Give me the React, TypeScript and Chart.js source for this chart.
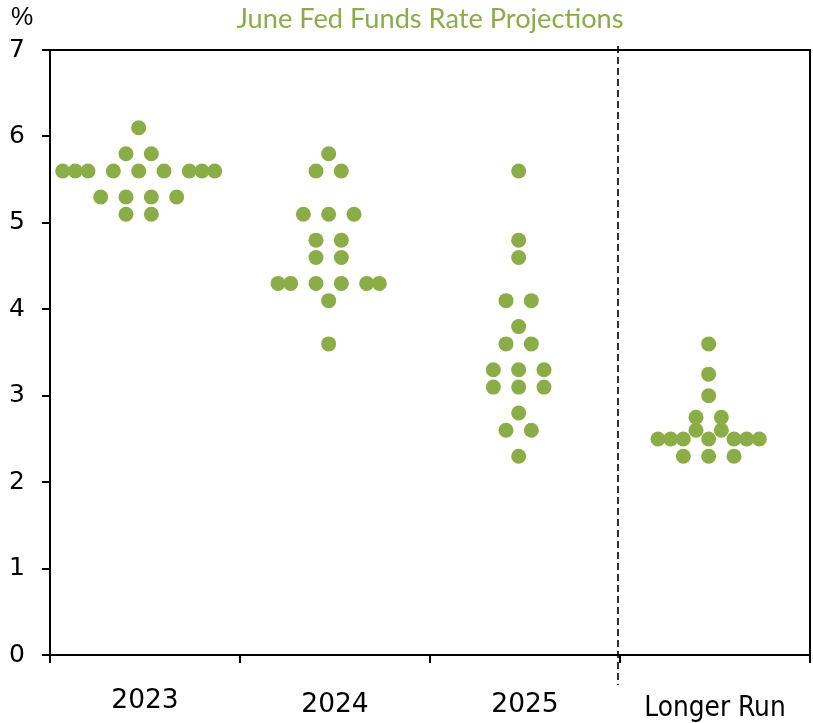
import React, { useEffect, useRef } from 'react';
import { Chart, registerables } from 'chart.js';

Chart.register(...registerables);

// ---- Data ----
const categories = ['2023', '2024', '2025', 'Longer Run'];
const yTickValues = [0, 1, 2, 3, 4, 5, 6, 7];

// Each dot: value and horizontal slot offset (from the cluster centre)
const values2023 = [6.1, 5.8, 5.8, 5.6, 5.6, 5.6, 5.6, 5.6, 5.6, 5.6, 5.6, 5.6, 5.3, 5.3, 5.3, 5.3, 5.1, 5.1];
const slots2023 = [0, -1, 1, -6, -5, -4, -2, 0, 2, 4, 5, 6, -3, -1, 1, 3, -1, 1];

const values2024 = [5.8, 5.6, 5.6, 5.1, 5.1, 5.1, 4.8, 4.8, 4.6, 4.6, 4.3, 4.3, 4.3, 4.3, 4.3, 4.3, 4.1, 3.6];
const slots2024 = [0, -1, 1, -2, 0, 2, -1, 1, -1, 1, -4, -3, -1, 1, 3, 4, 0, 0];

const values2025 = [5.6, 4.8, 4.6, 4.1, 4.1, 3.8, 3.6, 3.6, 3.3, 3.3, 3.3, 3.1, 3.1, 3.1, 2.8, 2.6, 2.6, 2.3];
const slots2025 = [0, 0, 0, -1, 1, 0, -1, 1, -2, 0, 2, -2, 0, 2, 0, -1, 1, 0];

const valuesLonger = [3.6, 3.25, 3.0, 2.75, 2.75, 2.6, 2.6, 2.5, 2.5, 2.5, 2.5, 2.5, 2.5, 2.5, 2.3, 2.3, 2.3];
const slotsLonger = [0, 0, 0, -1, 1, -1, 1, -4, -3, -2, 0, 2, 3, 4, -2, 0, 2];

const seriesValues = [values2023, values2024, values2025, valuesLonger];
const seriesSlots = [slots2023, slots2024, slots2025, slotsLonger];

const SLOTS_PER_CATEGORY = 15;
const CENTER_SLOT = 7;

const GREEN = '#8BAD47';

function buildPoints() {
  const pts: { x: number; y: number }[] = [];
  seriesValues.forEach((vals, ci) => {
    vals.forEach((v, i) => {
      pts.push({ x: ci + (CENTER_SLOT + seriesSlots[ci][i]) / SLOTS_PER_CATEGORY, y: v });
    });
  });
  return pts;
}

const framePlugin = {
  id: 'frameAndMarks',
  afterDraw(chart: any) {
    const { ctx, chartArea } = chart;
    const { left, right, top, bottom } = chartArea;
    ctx.save();
    ctx.strokeStyle = '#000';
    ctx.lineWidth = 2;
    ctx.beginPath();
    ctx.moveTo(left - 1, top);
    ctx.lineTo(right, top);
    ctx.lineTo(right, bottom);
    ctx.stroke();

    const xs = chart.scales.xv;
    const dx = xs.getPixelForValue(3) - 2;
    ctx.setLineDash([7, 4]);
    ctx.lineWidth = 1.6;
    ctx.beginPath();
    ctx.moveTo(dx, top - 4);
    ctx.lineTo(dx, bottom + 30);
    ctx.stroke();
    ctx.setLineDash([]);

    ctx.fillStyle = '#000';
    ctx.font = '25px "Liberation Sans Narrow", "Liberation Sans"';
    ctx.textAlign = 'center';
    ctx.textBaseline = 'middle';
    ctx.fillText('%', 22, 18);
    ctx.restore();
  },
};

export default function App() {
  const ref = useRef<HTMLCanvasElement | null>(null);
  useEffect(() => {
    if (!ref.current) return;
    const chart = new Chart(ref.current, {
      type: 'scatter',
      data: {
        datasets: [
          {
            data: buildPoints(),
            xAxisID: 'xv',
            yAxisID: 'y',
            backgroundColor: GREEN,
            pointBackgroundColor: GREEN,
            pointBorderWidth: 0,
            pointRadius: 7.5,
            pointHoverRadius: 7.5,
            showLine: false,
          } as any,
        ],
      },
      options: {
        animation: false,
        responsive: false,
        layout: { autoPadding: false, padding: { top: 0, right: 3, bottom: 0, left: 0 } },
        plugins: {
          legend: { display: false },
          tooltip: { enabled: false },
          title: {
            display: true,
            text: 'June Fed Funds Rate Projections',
            color: GREEN,
            fullSize: false,
            font: { family: 'Lato', size: 27.2, weight: 'normal', lineHeight: 1.2 },
            padding: { top: 2.5, bottom: 14.9 },
          },
        },
        scales: {
          xv: {
            type: 'linear',
            display: false,
            min: 0,
            max: categories.length,
          },
          x: {
            type: 'category',
            labels: categories,
            position: 'bottom',
            offset: true,
            grid: {
              offset: true,
              drawOnChartArea: false,
              drawTicks: true,
              tickLength: 8,
              color: '#000',
              lineWidth: 2,
            },
            border: { display: true, color: '#000', width: 2 },
            ticks: {
              color: '#000',
              padding: 22,
              maxRotation: 0,
              autoSkip: false,
              font: (c: any) =>
                c.index === 3
                  ? { family: '"Liberation Sans Narrow", "DejaVu Sans Condensed", "Liberation Sans"', size: 27.7, lineHeight: 1.7 }
                  : c.index === 0
                  ? { family: '"DejaVu Sans"', size: 26.5, lineHeight: 1.2 }
                  : { family: '"DejaVu Sans"', size: 26.5, lineHeight: 1.5 },
            },
            afterFit: (s: any) => {
              s.height = 68;
              s.paddingLeft = 0;
              s.paddingRight = 0;
            },
          },
          y: {
            type: 'linear',
            min: 0,
            max: 7,
            afterBuildTicks: (s: any) => {
              s.ticks = yTickValues.map((v) => ({ value: v }));
            },
            grid: {
              drawOnChartArea: false,
              drawTicks: true,
              tickLength: 8,
              color: '#000',
              lineWidth: 2,
            },
            border: { display: true, color: '#000', width: 2 },
            ticks: {
              color: '#000',
              padding: 17,
              font: { family: '"DejaVu Sans"', size: 25 },
            },
            afterFit: (s: any) => {
              s.width = 50;
            },
          },
        },
      },
      plugins: [framePlugin],
    });
    return () => chart.destroy();
  }, []);
  return (
    <div style={{ position: 'absolute', left: 0, top: 0, width: 813, height: 723, background: '#fff' }}>
      <canvas ref={ref} width={813} height={723} style={{ display: 'block' }} />
    </div>
  );
}
